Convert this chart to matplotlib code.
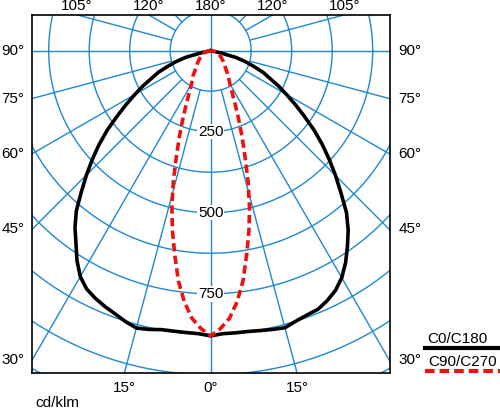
import numpy as np
import matplotlib
matplotlib.use('Agg')
import matplotlib.pyplot as plt
from matplotlib.lines import Line2D

plt.rcParams['font.family'] = ['Liberation Sans', 'DejaVu Sans']

# luminous intensity, cd/klm, gamma measured from straight down
gamma_c0 = [0, 2.5, 5, 7.5, 10, 12.5, 15, 17.5, 20, 22.5, 25, 27.5, 30, 32.5, 35,
            37.5, 40, 42.5, 45, 47.5, 50, 52.5, 55, 57.5, 60, 62.5, 65, 67.5, 70,
            72.5, 75, 77.5, 80]
c180_left = [880, 874, 873, 873, 874, 881, 886, 876, 864, 854, 843, 829, 805, 768, 725,
             688, 645, 591, 542, 495, 449, 402, 353, 310, 270, 236, 201, 175, 141,
             112, 80, 30, 0]
c0_right = [880, 874, 874, 874, 877, 881, 885, 875, 868, 864, 851, 834, 809, 775, 736,
            697, 652, 595, 545, 496, 449, 402, 353, 310, 270, 236, 201, 175, 141,
            112, 80, 30, 0]

gamma_c90 = [0, 2, 4, 6, 8, 10, 12, 14, 16, 18, 20, 22.5, 25, 30, 35, 40, 50, 60, 70, 80, 90]
c90 = [880, 858, 828, 779, 717, 639, 568, 495, 418, 342, 283, 222, 174, 118, 95, 72, 50, 35, 23, 12, 0]

rings = [125, 250, 375, 500, 625, 750, 875, 1000, 1125]
ring_labels = [250, 500, 750]
left_labels = [90, 75, 60, 45, 30]
top_labels = [105, 120, 180]
bottom_labels = [15, 0]

blue = '#1e88d0'
x0, x1, y0, y1 = -551.5, 553.4, -993, 111

fig = plt.figure(figsize=(5, 4.09), dpi=100)
ax = fig.add_axes([32 / 500, (409 - 372.5) / 409, 358 / 500, 357.8 / 409])
ax.set_xlim(x0, x1)
ax.set_ylim(y0, y1)
ax.set_xticks([])
ax.set_yticks([])
for s in ax.spines.values():
    s.set_linewidth(1.2)

# grid
t = np.linspace(0, 2 * np.pi, 721)
for r in rings:
    ax.plot(r * np.cos(t), r * np.sin(t), color=blue, lw=1.0, zorder=1)
for a in range(0, 360, 15):
    rad = np.radians(a)
    r_start = 0 if a % 90 == 0 else rings[0]
    ax.plot([r_start * np.sin(rad), 2000 * np.sin(rad)],
            [-r_start * np.cos(rad), -2000 * np.cos(rad)], color=blue, lw=1.0, zorder=1)

for v in ring_labels:
    ax.text(0, -v, str(v), ha='center', va='center', fontsize=11, zorder=2,
            bbox=dict(fc='white', ec='none', pad=0.5))

# curves
g = np.radians(gamma_c0)
xl = -np.array(c180_left) * np.sin(g)
yl = -np.array(c180_left) * np.cos(g)
xr = np.array(c0_right) * np.sin(g)
yr = -np.array(c0_right) * np.cos(g)
ax.plot(np.concatenate([xl[::-1], xr]), np.concatenate([yl[::-1], yr]),
        color='black', lw=2.6, zorder=3, solid_joinstyle='round')

g2 = np.radians(gamma_c90)
r2 = np.array(c90)
ax.plot(np.concatenate([-r2[::-1] * np.sin(g2[::-1]), r2 * np.sin(g2)]),
        np.concatenate([-r2[::-1] * np.cos(g2[::-1]), -r2 * np.cos(g2)]),
        color='#ee1111', lw=2.6, dashes=(2.3, 1.2), zorder=4)

# angle labels around the box
for a in left_labels:
    yy = x0 / np.tan(np.radians(a)) if a != 90 else 0
    ax.annotate(f'{a}°', (x0, yy), xytext=(-5.5, 0), textcoords='offset points',
                ha='right', va='center', fontsize=11, annotation_clip=False)
    ax.annotate(f'{a}°', (x1, yy), xytext=(6, 0), textcoords='offset points',
                ha='left', va='center', fontsize=11, annotation_clip=False)
for a in top_labels:
    xx = 0 if a == 180 else y1 / np.tan(np.radians(a - 90))
    for sx in ([1] if a == 180 else [-1, 1]):
        ax.annotate(f'{a}°', (sx * xx, y1), xytext=(0, 1), textcoords='offset points',
                    ha='center', va='bottom', fontsize=11, annotation_clip=False)
for a in bottom_labels:
    xx = -y0 * np.tan(np.radians(a))
    for sx in ([1] if a == 0 else [-1, 1]):
        ax.annotate(f'{a}°', (sx * xx, y0), xytext=(0, -6), textcoords='offset points',
                    ha='center', va='top', fontsize=11, annotation_clip=False)

fig.text(57 / 500, 1 - 403 / 409, 'cd/klm', ha='center', va='center', fontsize=11)

# legend
fig.text(427 / 500, 1 - 339 / 409, 'C0/C180', ha='left', va='center', fontsize=11)
fig.add_artist(Line2D([425 / 500, 1.0], [1 - 348 / 409] * 2, color='black', lw=3))
fig.text(428 / 500, 1 - 362 / 409, 'C90/C270', ha='left', va='center', fontsize=11)
fig.add_artist(Line2D([425 / 500, 1.0], [1 - 371 / 409] * 2, color='#ee1111', lw=3,
                      dashes=(2.3, 1.2)))

fig.savefig('out.png', dpi=100)
